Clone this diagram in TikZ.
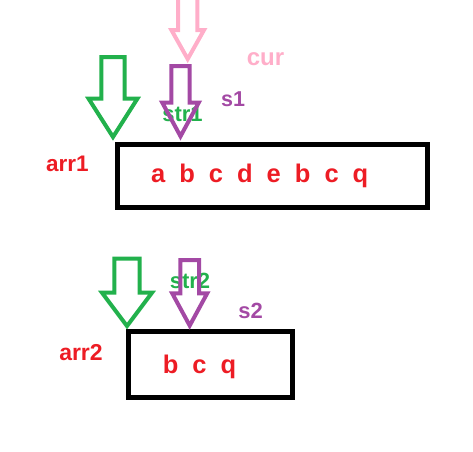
\documentclass[tikz,border=0pt]{standalone}
\usepackage{fontspec}
\setmainfont{Liberation Sans}
\definecolor{pred}{RGB}{237,28,36}
\definecolor{pgreen}{RGB}{34,177,76}
\definecolor{ppurple}{RGB}{163,73,164}
\definecolor{ppink}{RGB}{255,174,201}
\newcommand\blockarrow[7]{% colour, cx, top, shaft half, head y, head half, tip y
  \draw[arrowline,#1] ({#2-#4},{#3}) -- ({#2+#4},{#3}) -- ({#2+#4},{#5}) -- ({#2+#6},{#5})
    -- ({#2},{#7}) -- ({#2-#6},{#5}) -- ({#2-#4},{#5}) -- cycle;}
\newcommand\lt[1]{\makebox[28.9pt]{#1}}
\begin{document}
\begin{tikzpicture}[x=1pt,y=-1pt,
  arrowline/.style={line width=4pt,line join=miter,miter limit=10},
  boxframe/.style={draw=black,line width=5pt,inner sep=0pt,outer sep=0pt,anchor=north west},
  label/.style={font=\bfseries\fontsize{#1}{#1}\selectfont,inner sep=0pt,anchor=base},
  letters/.style={text=pred,font=\bfseries\fontsize{25.5}{25.5}\selectfont,inner sep=0pt,anchor=base west}]
\useasboundingbox (0,0) rectangle (473,451);
\clip (0,0) rectangle (473,451);
% boxes
\node[boxframe,minimum width=310pt,minimum height=63pt] (box1) at (117.5,144.5) {};
\node[boxframe,minimum width=164.2pt,minimum height=66.5pt] (box2) at (128.3,331) {};
% letters
\node[letters] (row1) at (143.55,182) {\lt{a}\lt{b}\lt{c}\lt{d}\lt{e}\lt{b}\lt{c}\lt{q}};
\node[letters] (row2) at (156.05,373) {\lt{b}\lt{c}\lt{q}};
% labels
\node[label=22.5,text=pred] (arr1) at (67.5,171) {arr1};
\node[label=23,text=pred] (arr2) at (81,360) {arr2};
\node[label=24,text=ppink] (cur) at (265.5,65) {cur};
\node[label=21.5,text=ppurple] (s1) at (233,106.7) {s1};
\node[label=22,text=ppurple] (s2) at (250.5,318.3) {s2};
\node[label=22,text=pgreen] (str1) at (182.5,121.7) {str1};
\node[label=22,text=pgreen] (str2) at (190,288) {str2};
% arrows
\blockarrow{ppink}{187.7}{-6}{9.7}{30}{16.3}{59}
\blockarrow{pgreen}{113}{57}{11.7}{98.5}{24.5}{137}
\blockarrow{ppurple}{180.5}{66}{9.2}{102.5}{18.3}{136.3}
\blockarrow{pgreen}{127}{258.7}{12.7}{292.7}{25}{326}
\blockarrow{ppurple}{189.7}{260}{9.3}{293.3}{17.5}{325.6}
\end{tikzpicture}
\end{document}
